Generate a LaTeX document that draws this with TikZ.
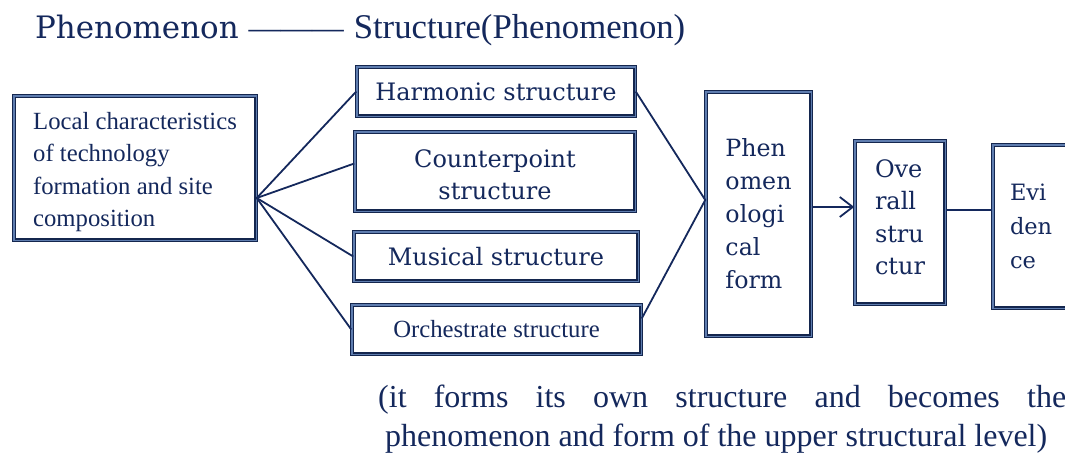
\documentclass[tikz,border=0pt]{standalone}
\usepackage{fontspec}
\setmainfont{Liberation Serif}
\newfontfamily\wideserif{DejaVu Serif}
\usetikzlibrary{arrows.meta,calc}
\definecolor{ink}{RGB}{20,40,92}
\definecolor{rim}{RGB}{20,38,78}
\definecolor{rimlight}{RGB}{95,125,175}
\begin{document}
\begin{tikzpicture}[x=1pt,y=-1pt,
  box/.style={draw=rim, double=rimlight, double distance=1.2pt, line width=1.3pt,
              fill=white, inner sep=0pt, text=ink},
  link/.style={draw=ink, line width=1.8pt},
  times/.style={font=\fontsize{24.7}{32.5}\selectfont},
  wide/.style={font=\wideserif\fontsize{24}{33}\selectfont},
  plain/.style={inner sep=0pt, text=ink, anchor=base west}
]
\useasboundingbox (0,0) rectangle (1065,453);

% heading
\node[plain] (title) at (35,38)
  {{\wideserif\fontsize{30.9}{36}\selectfont Phenomenon}\hspace{10pt}%
   {\fontsize{31.7}{36}\selectfont ———}\hspace{10pt}%
   {\fontsize{34.7}{40}\selectfont Structure(Phenomenon)}};

% source box
\node[box, times, align=left, minimum width=242.2, minimum height=144.2] (local) at (135,168)
  {\rule{0pt}{25pt}Local characteristics\\of technology\\formation and site\\composition};

% four component structures
\node[box, wide, minimum width=278.2, minimum height=49.2] (harm) at (496,91.5) {Harmonic structure};
\node[box, wide, align=center, minimum width=280.2, minimum height=79.2,
      font=\wideserif\fontsize{24}{32}\selectfont] (cp) at (495,171.5) {\rule{0pt}{24pt}Counterpoint\\structure};
\node[box, wide, minimum width=284.2, minimum height=49.2] (mus) at (496,256.5) {Musical structure};
\node[box, times, minimum width=289.2, minimum height=49.2] (orch) at (496.5,329.5) {Orchestrate structure};

% result chain
\node[box, align=left, minimum width=105.2, minimum height=244.2,
      font=\wideserif\fontsize{23.7}{33}\selectfont] (phen) at (758.5,214)
  {Phen\\omen\\ologi\\cal\\form};
\node[box, align=left, minimum width=90.2, minimum height=163.2,
      font=\wideserif\fontsize{24}{32.5}\selectfont] (over) at (900,222.5)
  {Ove\\rall\\stru\\ctur\rule[-11pt]{0pt}{0pt}};
\node[box, align=left, text width=71pt, inner xsep=17pt, minimum width=105.2, minimum height=163.2,
      font=\wideserif\fontsize{22.5}{34}\selectfont] (ev) at (1045.5,226.5)
  {Evi\\den\\ce};

% connectors
\coordinate (fan) at ([yshift=-30pt]local.east);
\draw[link] (fan) -- (harm.west);
\draw[link] (fan) -- ([yshift=8pt]cp.west);
\draw[link] (fan) -- (mus.west);
\draw[link] (fan) -- (orch.west);

\coordinate (merge) at ([yshift=14pt]phen.west);
\draw[link] (harm.east) -- (merge) -- ([yshift=11pt]orch.east);

\draw[link, -{Straight Barb[length=13pt,width=20pt]}]
  ([yshift=7pt]phen.east) -- ([yshift=7pt]phen.east -| over.west);
\draw[link] ([yshift=12.5pt]over.east) -- ([yshift=12.5pt]over.east -| ev.west);

% note below
\node[plain, font=\fontsize{32}{35}\selectfont] (note1) at (378,407)
  {\makebox[688pt][s]{(it forms its own structure and becomes the}};
\node[plain, font=\fontsize{32}{35}\selectfont] (note2) at (385,446)
  {phenomenon and form of the upper structural level)};
\end{tikzpicture}
\end{document}
